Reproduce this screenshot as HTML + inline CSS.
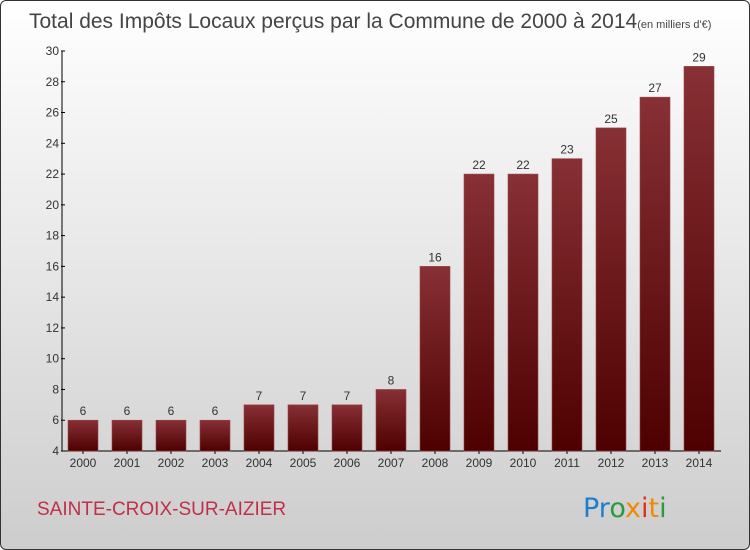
<!DOCTYPE html>
<html><head><meta charset="utf-8"><style>
html,body{margin:0;padding:0;}
body{width:750px;height:550px;overflow:hidden;font-family:"Liberation Sans",sans-serif;}
#frame{position:absolute;left:0;top:0;width:748px;height:548px;border:1px solid #333;border-radius:6px;background:linear-gradient(#ffffff,#cdcdcd);overflow:hidden;}
</style></head><body>
<div id="frame">
<svg width="750" height="550">
<defs><linearGradient id="bg" x1="0" y1="0" x2="0" y2="1"><stop offset="0" stop-color="#873035"/><stop offset="1" stop-color="#4e0000"/></linearGradient></defs>
<text x="28" y="27" font-size="21" fill="#444">Total des Impôts Locaux perçus par la Commune de 2000 à 2014<tspan font-size="11">(en milliers d'€)</tspan></text>
<g id="axes"></g><g id="bars"></g>
<text x="36" y="514" font-size="19" fill="#c0304a">SAINTE-CROIX-SUR-AIZIER</text>
<text x="582" y="516" font-size="27" font-family="'DejaVu Sans',sans-serif"><tspan fill="#1a7fd0">Pr</tspan><tspan fill="#2a9a3a">o</tspan><tspan fill="#f08a00">x</tspan><tspan fill="#e03020">i</tspan><tspan fill="#f08a00">t</tspan><tspan fill="#2a9a3a">i</tspan></text>
</svg></div>
<script>
const categories=["2000","2001","2002","2003","2004","2005","2006","2007","2008","2009","2010","2011","2012","2013","2014"];
const values=[6,6,6,6,7,7,7,8,16,22,22,23,25,27,29];
const yTicks=[4,6,8,10,12,14,16,18,20,22,24,26,28,30];
const NS="http://www.w3.org/2000/svg";
const y0=450,y1=50,vmin=4,vmax=30,xL=61,step=44,first=82,bw=30;
const y=v=>y0-(v-vmin)/(vmax-vmin)*(y0-y1);
const x=i=>first+i*step;
function mk(t,a,p){const e=document.createElementNS(NS,t);for(const k in a)e.setAttribute(k,a[k]);p.appendChild(e);return e;}
const ax=document.getElementById('axes'),bg=document.getElementById('bars');
const yl=mk('line',{x1:xL,y1:y1,x2:xL,y2:y0,stroke:'#000'},ax);


const xl=mk('line',{x1:xL,y1:y0,x2:720,y2:y0,stroke:'#000'},ax);


yTicks.forEach(v=>{
 mk('line',{x1:xL-1,x2:xL+3,y1:y(v),y2:y(v),stroke:'#000'},ax);
 const t=mk('text',{x:xL-3,y:y(v)+4,'text-anchor':'end','font-size':12,fill:'#333'},ax);t.textContent=v;
 
 
});
categories.forEach((c,i)=>{
 mk('line',{x1:x(i),x2:x(i),y1:y0,y2:y0+3,stroke:'#000'},ax);
 const t=mk('text',{x:x(i),y:y0+16,'text-anchor':'middle','font-size':12,fill:'#333'},ax);t.textContent=c;
 
 
 const r=mk('rect',{x:x(i)-bw/2,y:y(values[i]),width:bw,height:y0-y(values[i]),fill:'url(#bg)',stroke:'#9a4448','stroke-width':0.6},bg);
 
 
 const l=mk('text',{x:x(i),y:y(values[i])-5,'text-anchor':'middle','font-size':12,fill:'#333'},bg);l.textContent=values[i];
 
 
});
</script>
</body></html>
